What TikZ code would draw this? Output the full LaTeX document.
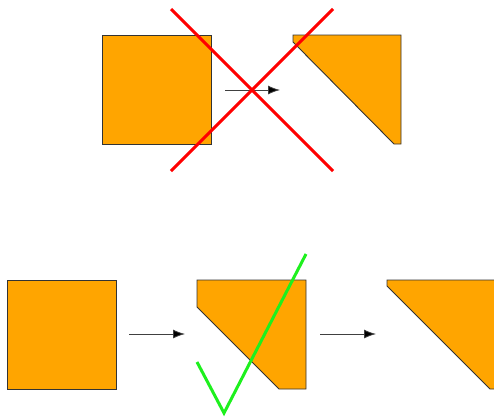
\documentclass[tikz,border=0pt]{standalone}
\usetikzlibrary{arrows.meta}
\definecolor{shapeorange}{HTML}{FFA500}
\definecolor{edgegray}{HTML}{333333}
\definecolor{crossred}{HTML}{FF0000}
\definecolor{checkgreen}{HTML}{1EF01E}
\tikzset{
  shapefill/.style={fill=shapeorange, draw=edgegray, line width=0.9pt, line join=miter},
  steparrow/.style={draw=black!75, line width=0.8pt, -{Latex[length=12pt,width=9pt,fill=black]}},
  crossline/.style={draw=crossred, line width=3pt},
  checkline/.style={draw=checkgreen, line width=3pt, line join=miter}
}
\begin{document}
\begin{tikzpicture}[x=1pt,y=-1pt]
\useasboundingbox (0,0) rectangle (494,416);
\clip (0,0) rectangle (494,416);
% top row
\draw[shapefill] (102,35) rectangle (211,144);
\draw[shapefill] (293,35) -- (401,35) -- (401,144) -- (394,144) -- (294,43) -- (293,42) -- cycle;
\coordinate (ta) at (225,90);
\coordinate (tb) at (280,90);
\draw[steparrow] (ta) -- (tb);
\coordinate (x1) at (171,9);
\coordinate (x2) at (333,171);
\coordinate (x3) at (333,9);
\coordinate (x4) at (171,171);
\draw[crossline] (x1) -- (x2);
\draw[crossline] (x3) -- (x4);
% bottom row
\draw[shapefill] (7,280) rectangle (116,389);
\coordinate (ba) at (129,334);
\coordinate (bb) at (185,334);
\draw[steparrow] (ba) -- (bb);
\draw[shapefill] (197,280) -- (306,280) -- (306,389) -- (279,389) -- (197,307) -- cycle;
\coordinate (bc) at (320,334);
\coordinate (bd) at (376,334);
\draw[steparrow] (bc) -- (bd);
\draw[shapefill] (387,280) -- (497,280) -- (497,389) -- (490,389) -- (388,287) -- (387,286) -- cycle;
\coordinate (c1) at (197,362);
\coordinate (c2) at (224,413);
\coordinate (c3) at (306,254);
\draw[checkline] (c1) -- (c2) -- (c3);
\end{tikzpicture}
\end{document}
